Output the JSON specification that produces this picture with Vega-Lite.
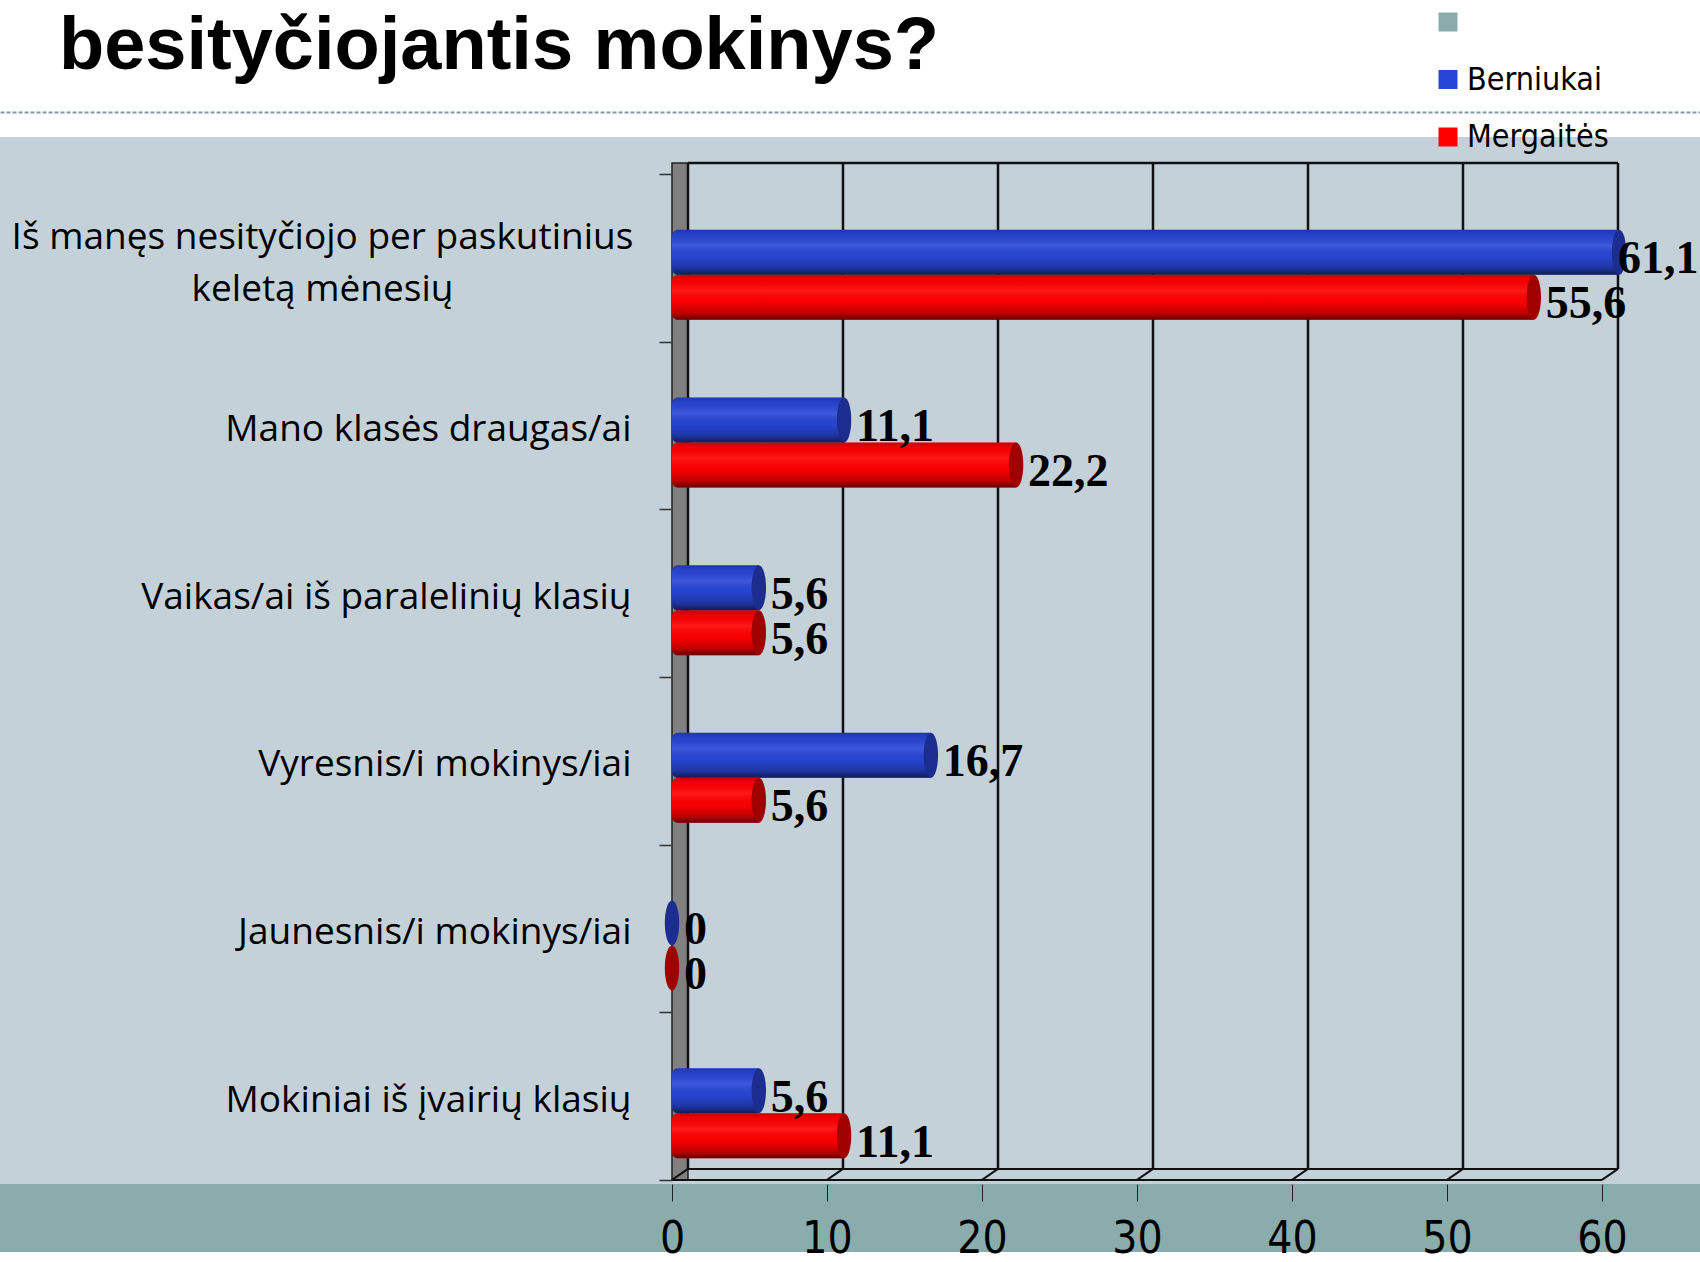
{
  "$schema": "https://vega.github.io/schema/vega-lite/v6.json",
  "background": "#ffffff",
  "padding": {"left": 0, "top": 6, "right": 0, "bottom": 0},
  "spacing": 0,
  "bounds": "flush",
  "config": {
    "view": {"stroke": null},
    "locale": {"number": {"decimal": ",", "thousands": "\u00a0", "grouping": [3], "currency": ["", ""]}}
  },
  "title": {
    "text": "besityčiojantis mokinys?",
    "anchor": "start",
    "frame": "group",
    "font": "Liberation Sans",
    "fontSize": 74,
    "fontWeight": "bold",
    "color": "#000000",
    "dx": 59,
    "offset": -137,
    "baseline": "alphabetic"
  },
  "datasets": {
    "stats": [
      {"kategorija": "Iš manęs nesityčiojo per paskutinius keletą mėnesių", "lytis": "Berniukai", "reiksme": 61.1},
      {"kategorija": "Iš manęs nesityčiojo per paskutinius keletą mėnesių", "lytis": "Mergaitės", "reiksme": 55.6},
      {"kategorija": "Mano klasės draugas/ai", "lytis": "Berniukai", "reiksme": 11.1},
      {"kategorija": "Mano klasės draugas/ai", "lytis": "Mergaitės", "reiksme": 22.2},
      {"kategorija": "Vaikas/ai iš paralelinių klasių", "lytis": "Berniukai", "reiksme": 5.6},
      {"kategorija": "Vaikas/ai iš paralelinių klasių", "lytis": "Mergaitės", "reiksme": 5.6},
      {"kategorija": "Vyresnis/i mokinys/iai", "lytis": "Berniukai", "reiksme": 16.7},
      {"kategorija": "Vyresnis/i mokinys/iai", "lytis": "Mergaitės", "reiksme": 5.6},
      {"kategorija": "Jaunesnis/i mokinys/iai", "lytis": "Berniukai", "reiksme": 0},
      {"kategorija": "Jaunesnis/i mokinys/iai", "lytis": "Mergaitės", "reiksme": 0},
      {"kategorija": "Mokiniai iš įvairių klasių", "lytis": "Berniukai", "reiksme": 5.6},
      {"kategorija": "Mokiniai iš įvairių klasių", "lytis": "Mergaitės", "reiksme": 11.1}
    ],
    "ticks": [{"v": 0}, {"v": 10}, {"v": 20}, {"v": 30}, {"v": 40}, {"v": 50}, {"v": 60}]
  },
  "vconcat": [
    {
      "width": 1700,
      "height": 1047,
      "view": {"fill": "#C5D1D8", "stroke": null},
      "resolve": {"axis": {"y": "independent", "x": "independent"}},
      "layer": [
        {
          "data": {"values": [{}]},
          "mark": {"type": "rect", "fill": "#808080", "stroke": "#222222", "strokeWidth": 1.5, "x2Offset": 16, "yOffset": -11},
          "encoding": {
            "x": {
              "datum": 0, "type": "quantitative",
              "scale": {"domain": [-43.3548, 66.3226], "nice": false, "zero": false},
              "axis": {"orient": "top", "offset": 25, "domain": true, "domainColor": "#7F9C9C", "domainWidth": 2, "domainDash": [4, 2], "ticks": false, "labels": false, "grid": false, "title": null}
            },
            "x2": {"datum": 0},
            "y": {
              "datum": "Iš manęs nesityčiojo per paskutinius keletą mėnesių", "type": "nominal", "bandPosition": 0,
              "scale": {
                "domain": ["Iš manęs nesityčiojo per paskutinius keletą mėnesių", "Mano klasės draugas/ai", "Vaikas/ai iš paralelinių klasių", "Vyresnis/i mokinys/iai", "Jaunesnis/i mokinys/iai", "Mokiniai iš įvairių klasių"],
                "paddingInner": 0, "paddingOuter": 0.1222, "align": 0.9
              },
              "axis": {
                "orient": "left", "offset": -672, "domain": false, "grid": false, "title": null,
                "tickBand": "extent", "tickSize": 13, "tickColor": "#333333", "tickWidth": 1.5,
                "labelFont": "Open Sans", "labelFontSize": 37, "labelColor": "#000000",
                "labelLimit": 900, "labelLineHeight": 52,
                "labelAlign": {"condition": {"test": "datum.value === 'Iš manęs nesityčiojo per paskutinius keletą mėnesių'", "value": "center"}, "value": "right"},
                "labelPadding": {"condition": {"test": "datum.value === 'Iš manęs nesityčiojo per paskutinius keletą mėnesių'", "value": 337}, "value": 28},
                "labelOffset": {"condition": {"test": "datum.value === 'Iš manęs nesityčiojo per paskutinius keletą mėnesių'", "value": -20}, "value": 4},
                "labelExpr": "datum.label == 'Iš manęs nesityčiojo per paskutinius keletą mėnesių' ? ['Iš manęs nesityčiojo per paskutinius', 'keletą mėnesių'] : datum.label"
              }
            },
            "y2": {"datum": "Mokiniai iš įvairių klasių", "bandPosition": 1}
          }
        },
        {
          "data": {"name": "ticks"},
          "mark": {"type": "rule", "color": "#111111", "strokeWidth": 2.5, "xOffset": 16, "yOffset": -11, "y2Offset": -11},
          "encoding": {
            "x": {"field": "v", "type": "quantitative", "axis": null},
            "y": {"datum": "Iš manęs nesityčiojo per paskutinius keletą mėnesių", "type": "nominal", "bandPosition": 0, "axis": null},
            "y2": {"datum": "Mokiniai iš įvairių klasių", "bandPosition": 1}
          }
        },
        {
          "data": {"values": [{}]},
          "mark": {"type": "rule", "color": "#111111", "strokeWidth": 2.5, "xOffset": 16, "x2Offset": 16, "yOffset": -11},
          "encoding": {
            "x": {"datum": 0, "type": "quantitative", "axis": null},
            "x2": {"datum": 60},
            "y": {"datum": "Iš manęs nesityčiojo per paskutinius keletą mėnesių", "type": "nominal", "bandPosition": 0, "axis": null}
          }
        },
        {
          "data": {"values": [{}]},
          "mark": {"type": "rule", "color": "#111111", "strokeWidth": 2, "xOffset": 16, "x2Offset": 16, "yOffset": -11},
          "encoding": {
            "x": {"datum": 0, "type": "quantitative", "axis": null},
            "x2": {"datum": 60},
            "y": {"datum": "Mokiniai iš įvairių klasių", "type": "nominal", "bandPosition": 1, "axis": null}
          }
        },
        {
          "data": {"values": [{}]},
          "mark": {"type": "rule", "color": "#111111", "strokeWidth": 2},
          "encoding": {
            "x": {"datum": 0, "type": "quantitative", "axis": null},
            "x2": {"datum": 60},
            "y": {"datum": "Mokiniai iš įvairių klasių", "type": "nominal", "bandPosition": 1, "axis": null}
          }
        },
        {
          "data": {"name": "ticks"},
          "mark": {"type": "rule", "color": "#111111", "strokeWidth": 2, "x2Offset": 16, "y2Offset": -11},
          "encoding": {
            "x": {"field": "v", "type": "quantitative", "axis": null},
            "x2": {"field": "v"},
            "y": {"datum": "Mokiniai iš įvairių klasių", "type": "nominal", "bandPosition": 1, "axis": null},
            "y2": {"datum": "Mokiniai iš įvairių klasių", "bandPosition": 1}
          }
        },
        {
          "data": {"name": "stats"},
          "mark": {"type": "bar", "cornerRadiusTopLeft": 6, "cornerRadiusBottomLeft": 6},
          "encoding": {
            "x": {"field": "reiksme", "type": "quantitative", "stack": null, "axis": null},
            "y": {"field": "kategorija", "type": "nominal", "sort": null, "axis": null},
            "yOffset": {"field": "lytis", "type": "nominal", "scale": {"domain": ["Berniukai", "Mergaitės"], "paddingInner": 0, "paddingOuter": 0.863, "align": 0.72}},
            "color": {
              "field": "lytis", "type": "nominal",
              "scale": {"domain": [" ", "Berniukai", "Mergaitės"], "range": ["#8BACAC", "#2846D6", "#FF0000"]},
              "legend": {
                "orient": "none", "legendX": 1432, "legendY": -131, "title": null, "direction": "vertical",
                "symbolType": "square", "symbolSize": 361, "symbolStrokeWidth": 0, "symbolOpacity": 1,
                "labelFont": "Liberation Sans Narrow, DejaVu Sans Condensed, Liberation Sans, sans-serif", "labelFontSize": 32, "labelColor": "#000000",
                "labelOffset": 3, "rowPadding": 25.5, "labelLimit": 300, "padding": 0
              }
            }
          }
        },
        {
          "data": {"name": "stats"},
          "mark": {
            "type": "bar", "cornerRadiusTopLeft": 6, "cornerRadiusBottomLeft": 6,
            "fill": {"gradient": "linear", "x1": 0, "y1": 0, "x2": 0, "y2": 1, "stops": [
              {"offset": 0, "color": "rgba(0,0,0,0.2)"},
              {"offset": 0.12, "color": "rgba(0,0,0,0.05)"},
              {"offset": 0.35, "color": "rgba(255,255,255,0.10)"},
              {"offset": 0.6, "color": "rgba(0,0,0,0.02)"},
              {"offset": 0.85, "color": "rgba(0,0,0,0.25)"},
              {"offset": 1, "color": "rgba(0,0,0,0.6)"}
            ]}
          },
          "encoding": {
            "x": {"field": "reiksme", "type": "quantitative", "stack": null, "axis": null},
            "y": {"field": "kategorija", "type": "nominal", "sort": null, "axis": null},
            "yOffset": {"field": "lytis", "type": "nominal"}
          }
        },
        {
          "data": {"name": "stats"},
          "mark": {"type": "point", "shape": "M0,-1A0.32,1 0 1,1 0,1A0.32,1 0 1,1 0,-1Z", "size": 2025, "filled": true, "opacity": 1, "strokeWidth": 0},
          "encoding": {
            "x": {"field": "reiksme", "type": "quantitative", "axis": null},
            "y": {"field": "kategorija", "type": "nominal", "sort": null, "axis": null},
            "yOffset": {"field": "lytis", "type": "nominal"},
            "color": {"condition": {"test": "datum.lytis === 'Berniukai'", "value": "#1B2D8E"}, "value": "#A00000"}
          }
        },
        {
          "data": {"name": "stats"},
          "mark": {"type": "text", "font": "Liberation Serif", "fontSize": 46, "fontWeight": "bold", "align": "left", "baseline": "middle", "dx": {"expr": "datum.reiksme > 60 ? -1 : 12"}, "dy": 7, "color": "#000000"},
          "encoding": {
            "x": {"field": "reiksme", "type": "quantitative", "axis": null},
            "y": {"field": "kategorija", "type": "nominal", "sort": null, "axis": null},
            "yOffset": {"field": "lytis", "type": "nominal"},
            "text": {"field": "reiksme", "type": "quantitative", "format": "~g"}
          }
        }
      ]
    },
    {
      "width": 1700,
      "height": 68,
      "view": {"fill": "#8BACAC", "stroke": null},
      "data": {"name": "ticks"},
      "mark": {"type": "rule", "opacity": 0},
      "encoding": {
        "x": {
          "field": "v", "type": "quantitative",
          "scale": {"domain": [-43.3548, 66.3226], "nice": false, "zero": false},
          "axis": {
            "orient": "bottom", "offset": -68, "values": [0, 10, 20, 30, 40, 50, 60],
            "domain": false, "grid": false, "title": null, "format": "d",
            "tickSize": 17, "tickColor": "#222222", "tickWidth": 1,
            "labelPadding": 16, "labelFont": "Liberation Sans Narrow, DejaVu Sans Condensed, Liberation Sans, sans-serif", "labelFontSize": 44,
            "labelColor": "#000000", "labelBaseline": "top", "labelFlush": false, "labelOverlap": false
          }
        }
      }
    }
  ]
}
